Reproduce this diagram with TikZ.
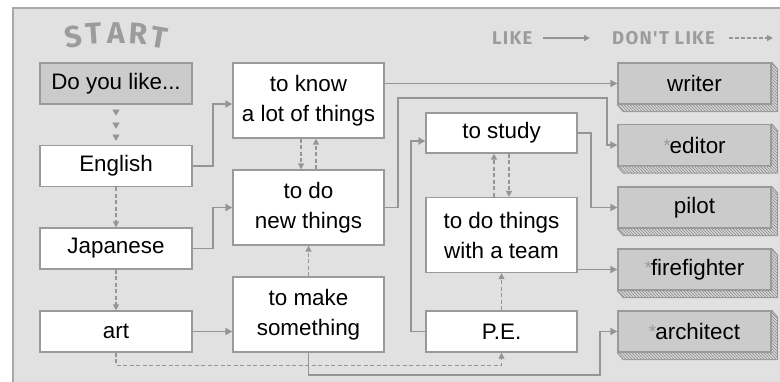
\documentclass[tikz,border=0pt]{standalone}
\usepackage{fontspec}
\setmainfont{Liberation Sans}
\newfontfamily\dinfont{Fira Sans}[UprightFont=* Bold, BoldFont=* Black]
\newfontfamily\dinspaced{Fira Sans}[UprightFont=* Bold, BoldFont=* Bold, LetterSpace=7]
\usetikzlibrary{arrows.meta,calc,patterns,decorations.markings}
\definecolor{panelbg}{HTML}{E1E1E1}
\definecolor{panelline}{HTML}{A8A8A8}
\definecolor{boxline}{HTML}{9A9A9A}
\definecolor{jobfill}{HTML}{CBCBCB}
\definecolor{conn}{HTML}{959595}
\definecolor{hatchbg}{HTML}{D6D6D6}
\definecolor{hatchline}{HTML}{8A8A8A}
\definecolor{titlegray}{HTML}{9C9C9C}
\newcommand{\jobstar}{{\color{titlegray}\raisebox{1pt}{\fontsize{19}{19}\selectfont *}}\kern-1pt}
\begin{document}
\begin{tikzpicture}[x=1pt,y=-1pt,
  box/.style={draw=boxline, line width=1.3pt, fill=white, minimum width=152pt,
    minimum height=41pt, inner sep=0pt, align=center,
    font=\fontsize{22.4}{30}\selectfont},
  tall/.style={box, minimum width=151pt, minimum height=75pt},
  job/.style={box, fill=jobfill, minimum width=153pt},
  start/.style={box, fill=jobfill},
  like/.style={draw=conn, line width=1.8pt, -{Triangle[length=7pt,width=7pt]}},
  dislike/.style={draw=conn, line width=1.3pt, dash pattern=on 4pt off 2.5pt,
    -{Triangle[length=6pt,width=6pt]}},
  legend/.style={text=titlegray, font=\dinspaced\fontsize{18.5}{18.5}\selectfont, inner sep=0pt},
  letter/.style={text=titlegray, font=\dinfont\fontsize{30}{30}\selectfont, inner sep=0pt}]
\useasboundingbox (0,0) rectangle (780,381);
\draw[draw=panelline, fill=panelbg, line width=1.2pt] (13,8) rectangle (800,400);

% START title
\node[letter, rotate=9]  (s1) at (73,37) {S};
\node[letter, rotate=4]  (s2) at (94,34) {T};
\node[letter]            (s3) at (116,33) {A};
\node[letter, rotate=-4] (s4) at (138,34) {R};
\node[letter, rotate=-10](s5) at (159,38) {T};

% legend
\node[legend, anchor=west] (lk) at (492,38) {LIKE};
\coordinate (lkend) at (590,38);
\node[legend, anchor=west] (dlk) at (612,38) {DON'T LIKE};
\coordinate (dlkend) at (773,38);
\draw[draw=conn, line width=1.3pt, -{Triangle[length=6pt,width=6pt]}] (lk.east -| 543,0) -- (lkend);
\draw[draw=conn, line width=1.3pt, dash pattern=on 3.5pt off 2.5pt, -{Triangle[length=6pt,width=6pt]}] (dlk.east -| 729,0) -- (dlkend);

% column 1
\node[start] (do)  at (116,83.5)  {Do you like...};
\node[box]   (eng) at (116,166)   {English};
\node[box]   (jap) at (116,248.5) {Japanese};
\node[box]   (art) at (116,331.5) {art};

% column 2
\node[tall] (know)  at (308.5,100.5) {to know\\a lot of things};
\node[tall] (donew) at (308.5,207.5) {to do\\new things};
\node[tall] (make)  at (308.5,314.5) {to make\\something};

% column 3
\node[box, minimum width=151pt, minimum height=40pt] (study) at (501.5,133) {to study};
\node[tall] (team) at (501.5,235) {to do things\\with a team};
\node[box, minimum width=151pt] (pe) at (501.5,331.5) {P.E.};

% jobs with hatched 3D edge
\foreach \n/\y/\t in {writer/83.5/{writer},
                       editor/145/{\jobstar editor},
                       pilot/207.5/{pilot},
                       fire/269.5/{\jobstar firefighter},
                       arch/331.5/{\jobstar architect}} {
  \node[job] (\n) at (694.5,\y) {\t};
  \fill[hatchbg] (\n.south west) -- ++(6,7) -- ($(\n.south east)+(6,7)$)
     -- ($(\n.north east)+(6,7)$) -- (\n.north east) -- (\n.south east) -- cycle;
  \fill[pattern=north west lines, pattern color=hatchline] (\n.south west) -- ++(6,7) -- ($(\n.south east)+(6,7)$)
     -- ($(\n.north east)+(6,7)$) -- (\n.north east) -- (\n.south east) -- cycle;
  \draw[boxline, line width=1.1pt, line join=round] (\n.south west) -- ++(6,7) -- ($(\n.south east)+(6,7)$)
     -- ($(\n.north east)+(6,7)$) -- (\n.north east) -- (\n.south east) -- cycle;
}

% start triangles
\path[decorate, decoration={markings,
   mark=at position 11pt with {\arrow[conn]{Triangle[length=6pt,width=7pt]}},
   mark=at position 24pt with {\arrow[conn]{Triangle[length=6pt,width=7pt]}},
   mark=at position 36pt with {\arrow[conn]{Triangle[length=6pt,width=7pt]}}}]
   (do.south) -- (eng.north);

% dashed (don't like)
\draw[dislike] (eng.south) -- (jap.north);
\draw[dislike] (jap.south) -- (art.north);
\draw[dislike] ($(know.south)+(-7.5,0)$) -- ($(donew.north)+(-7.5,0)$);
\draw[dislike] ($(donew.north)+(7.5,0)$) -- ($(know.south)+(7.5,0)$);
\draw[dislike] (make.north) -- (donew.south);
\draw[dislike] ($(team.north)+(-7.5,0)$) -- ($(study.south)+(-7.5,0)$);
\draw[dislike] ($(study.south)+(7.5,0)$) -- ($(team.north)+(7.5,0)$);
\draw[dislike] (pe.north) -- (team.south);
\draw[dislike] (art.south) -- ++(0,12.5) -| (pe.south);

% solid (like)
\draw[like] (eng.east) -- ++(20,0) |- ($(know.west)+(0,3.5)$);
\draw[like] (jap.east) -- ++(20,0) |- (donew.west);
\draw[like] (art.east) -- (art.east -| make.west);
\draw[like] (know.east |- writer.west) -- (writer.west);
\draw[like] (donew.east) -- ++(13,0) -- ++(0,-109.5) -- ++(209,0) |- (editor.west);
\draw[like] (study.east) -- ++(13,0) |- (pilot.west);
\draw[like] (team.east |- fire.west) -- (fire.west);
\draw[like] (pe.west) -- ++(-14,0) |- ($(study.west)+(0,8)$);
\draw[like] (make.south) -- ++(0,22) -- ++(291.5,0) |- (arch.west);
\end{tikzpicture}
\end{document}
